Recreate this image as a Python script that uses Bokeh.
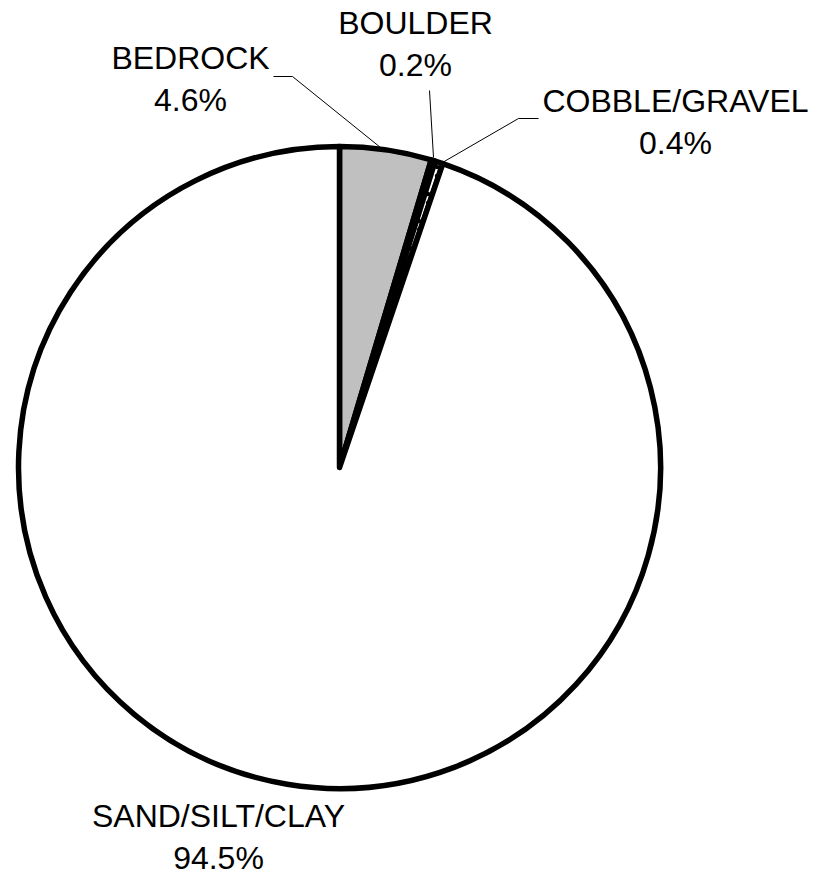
import numpy as np
from bokeh.plotting import figure
from bokeh.models import Range1d, ColumnDataSource
from bokeh.core.properties import value
from bokeh.embed import file_html
from bokeh.resources import INLINE

# Substrate composition (percent of area)
categories = ["BEDROCK", "BOULDER", "COBBLE/GRAVEL", "SAND/SILT/CLAY"]
percents = [4.6, 0.2, 0.4, 94.5]
fills = ["#c0c0c0", "#ffffff", "#ffffff", "#ffffff"]
hatches = [" ", " ", "dot", " "]

W, H = 816, 877
CX, CY, R = 339, H - 467, 321

# Label anchors (name line centre) and leader-line vertices, in canvas pixels from top
label_xy = [(190, 57), (415, 22), (675, 100), (218, 815)]
leaders = [
    [(273, 76), (292, 76), (380, 147)],
    [(429, 90), (433, 157)],
    [(538, 118), (518, 118), (442, 162)],
    None,
]

vals = np.array(percents, dtype=float)
frac = vals / vals.sum()
cum = np.concatenate([[0.0], np.cumsum(frac)])
# Clockwise from 12 o'clock
start = np.pi / 2 - cum[1:] * 2 * np.pi
end = np.pi / 2 - cum[:-1] * 2 * np.pi

src = ColumnDataSource(dict(
    cat=categories, start=start, end=end, fill=fills, hatch=hatches,
))

p = figure(width=W, height=H, output_backend="svg", toolbar_location=None,
           x_range=Range1d(0, W), y_range=Range1d(0, H),
           x_axis_type=None, y_axis_type=None, min_border=0)
p.grid.visible = False
p.outline_line_color = None
p.background_fill_color = "white"
p.border_fill_color = "white"

p.wedge(x=CX, y=CY, radius=R, start_angle="start", end_angle="end",
        direction="anticlock", fill_color="fill", line_color="black",
        line_width=5.5, line_join="round", hatch_pattern="hatch",
        hatch_color="black", hatch_scale=9, hatch_weight=1.2, source=src)

# Leader lines
for seg in leaders:
    if seg is None:
        continue
    xs = [pt[0] for pt in seg]
    ys = [H - pt[1] for pt in seg]
    p.line(xs, ys, line_color="black", line_width=1)

# Labels: category name with percentage on the line below
name_x = [xy[0] for xy in label_xy]
name_y = [H - xy[1] for xy in label_xy]
pct_y = [H - xy[1] - 42 for xy in label_xy]
pct_txt = [f"{v:.1f}%" for v in percents]

p.text(x=name_x, y=name_y, text=categories, text_align="center",
       text_baseline="middle", text_font=value("Liberation Sans"),
       text_font_size="32px", text_color="black")
p.text(x=name_x, y=pct_y, text=pct_txt, text_align="center",
       text_baseline="middle", text_font=value("Liberation Sans"),
       text_font_size="32px", text_color="black")

open("out.html", "w").write(file_html(p, INLINE))
